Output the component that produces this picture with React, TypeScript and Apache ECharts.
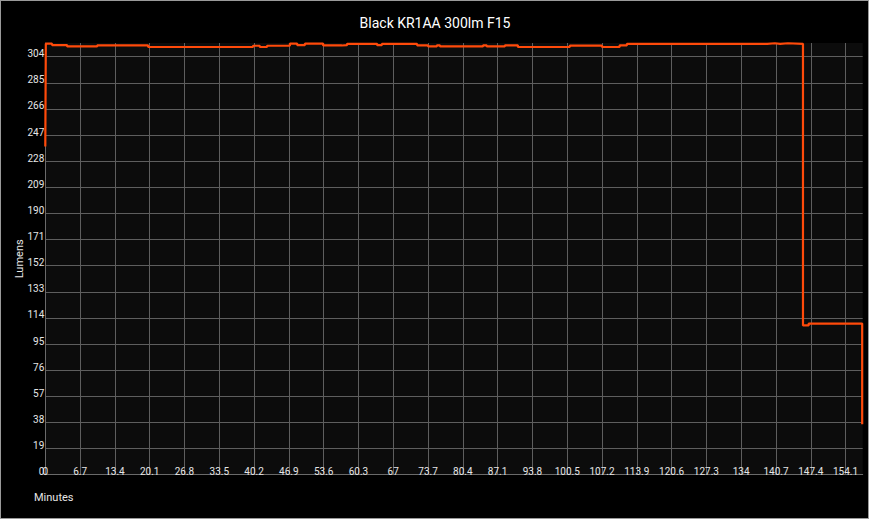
import React, { useEffect, useRef } from "react";
import * as echarts from "echarts";

const chartTitle = "Black KR1AA 300lm F15";
const yAxisName = "Lumens";
const xAxisName = "Minutes";

// Step series: lumens[i] holds from minutes[i] until minutes[i + 1]
const minutes = [
  0, 0.1, 1.3, 4.2, 10.0, 19.8, 40.0, 41.3, 42.7, 47.1, 48.5, 50.0, 53.5, 57.1,
  58.1, 63.9, 64.8, 71.6, 73.7, 75.4, 76.0, 84.3, 85.0, 88.5, 91.0, 101.0, 107.2,
  110.6, 112.0, 139.0, 140.5, 141.5, 143.0, 145.9, 147.0, 157.3,
];
const lumens = [
  238.8, 313.5, 312.5, 311.5, 312.3, 311.1, 312.0, 311.1, 312.0, 313.6, 312.5,
  313.6, 312.2, 312.4, 313.4, 312.4, 313.3, 312.3, 311.5, 312.3, 311.5, 312.3,
  311.5, 312.3, 311.1, 312.1, 311.1, 312.3, 313.4, 313.8, 313.4, 313.8, 313.4,
  108.6, 109.9, 36.7,
];

const xInterval = 6.7;
const xMax = 157.4;
const yInterval = 19;
const yMax = 314;

export default function App() {
  const ref = useRef<HTMLDivElement>(null);

  useEffect(() => {
    document.body.style.margin = "0";
    if (!ref.current) return;
    const chart = echarts.init(ref.current, null, { renderer: "svg" });
    const font = "Roboto";
    chart.setOption({
      animation: false,
      backgroundColor: "transparent",
      title: {
        text: chartTitle,
        left: "center",
        top: 11,
        textStyle: { color: "#ffffff", fontSize: 14, fontWeight: "normal", fontFamily: font },
      },
      grid: {
        left: 45.3,
        right: 7.3,
        top: 43,
        bottom: 46.3,
        show: true,
        backgroundColor: "#0c0c0c",
        borderWidth: 0,
      },
      graphic: [
        {
          type: "text",
          left: 34,
          top: 492,
          style: { text: xAxisName, fill: "#e6e6e6", fontSize: 11, fontFamily: font },
        },
      ],
      xAxis: {
        type: "value",
        min: 0,
        max: xMax,
        interval: xInterval,
        axisLine: { show: true, lineStyle: { color: "#6a6a6a", width: 1 } },
        axisTick: { show: false },
        splitLine: { show: true, showMaxLine: false, lineStyle: { color: "#5e5e5e", width: 1 } },
        axisLabel: {
          inside: true,
          margin: -2,
          lineHeight: 10,
          showMaxLabel: false,
          color: "#e6e6e6",
          fontSize: 10,
          fontFamily: font,
          formatter: (v: number) => {
            const k = Math.round(v / xInterval);
            if (Math.abs(k * xInterval - v) > 0.01) return "";
            return String(Math.round(v * 10) / 10);
          },
        },
      },
      yAxis: {
        type: "value",
        min: 0,
        max: yMax,
        interval: yInterval,
        name: yAxisName,
        nameLocation: "middle",
        nameRotate: 90,
        nameGap: 20,
        nameMoveOverlap: false,
        nameTextStyle: { color: "#e6e6e6", fontSize: 11, fontFamily: font },
        axisLine: { show: true, lineStyle: { color: "#6a6a6a", width: 1 } },
        axisTick: { show: false },
        splitLine: { show: true, showMaxLine: false, lineStyle: { color: "#5e5e5e", width: 1 } },
        axisLabel: {
          margin: 1,
          showMaxLabel: false,
          verticalAlign: "bottom",
          color: "#e6e6e6",
          fontSize: 10,
          fontFamily: font,
          formatter: (v: number) => (v % yInterval === 0 ? `{a|${v}}` : ""),
          rich: {
            a: { color: "#e6e6e6", fontSize: 10, fontFamily: font, lineHeight: 6 },
          },
        },
      },
      series: [
        {
          type: "line",
          step: "end",
          showSymbol: false,
          symbol: "none",
          data: minutes.map((m, i) => [m, lumens[i]]),
          lineStyle: { color: "#ff4a0a", width: 2.2 },
          clip: false,
        },
      ],
    });
    return () => chart.dispose();
  }, []);

  return (
    <div style={{ position: "relative", width: 870, height: 521, background: "#ffffff" }}>
      <div
        style={{
          position: "absolute",
          left: 0,
          top: 0,
          width: 869,
          height: 519,
          boxSizing: "border-box",
          border: "1px solid #9a9a9a",
          background: "#000000",
        }}
      />
      <div ref={ref} style={{ position: "absolute", left: 0, top: 0, width: 870, height: 521 }} />
    </div>
  );
}
